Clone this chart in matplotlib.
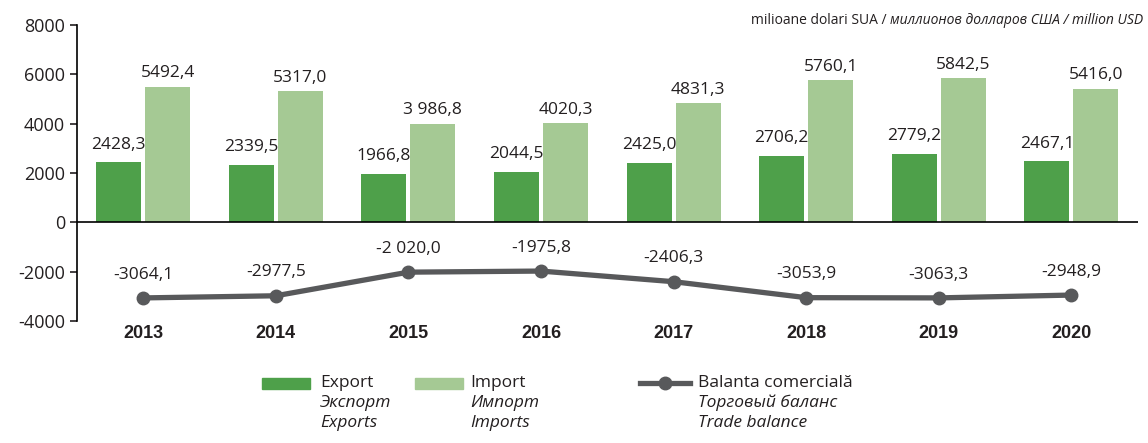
import numpy as np
import matplotlib.pyplot as plt
from matplotlib.patches import Rectangle
from matplotlib.lines import Line2D

plt.rcParams['font.family'] = ['Open Sans', 'DejaVu Sans']
plt.rcParams['axes.unicode_minus'] = False

# Data
years = ['2013', '2014', '2015', '2016', '2017', '2018', '2019', '2020']
exports = [2428.3, 2339.5, 1966.8, 2044.5, 2425.0, 2706.2, 2779.2, 2467.1]
imports = [5492.4, 5317.0, 3986.8, 4020.3, 4831.3, 5760.1, 5842.5, 5416.0]
balance = [-3064.1, -2977.5, -2020.0, -1975.8, -2406.3, -3053.9, -3063.3, -2948.9]
export_labels = ['2428,3', '2339,5', '1966,8', '2044,5', '2425,0', '2706,2', '2779,2', '2467,1']
import_labels = ['5492,4', '5317,0', '3 986,8', '4020,3', '4831,3', '5760,1', '5842,5', '5416,0']
balance_labels = ['-3064,1', '-2977,5', '-2 020,0', '-1975,8', '-2406,3', '-3053,9', '-3063,3', '-2948,9']

c_exp = '#4ea04a'
c_imp = '#a5c994'
c_bal = '#58595b'
txt = '#231f20'

fig = plt.figure(figsize=(11.48, 4.43), dpi=100)
ax = fig.add_axes([0.067, 0.2754, 0.924, 0.6682])

x = np.arange(len(years))
w = 0.34
ax.bar(x - 0.185, exports, w, color=c_exp)
ax.bar(x + 0.185, imports, w, color=c_imp)
ax.plot(x, balance, color=c_bal, lw=3.8, marker='o', ms=9, zorder=4)

for i in range(len(years)):
    ax.annotate(export_labels[i], (x[i] - 0.185, exports[i]), xytext=(0, 7),
                textcoords='offset points', ha='center', va='bottom', fontsize=12.5, color=txt)
    ax.annotate(import_labels[i], (x[i] + 0.185, imports[i]), xytext=(0, 4),
                textcoords='offset points', ha='center', va='bottom', fontsize=12.5, color=txt)
    ax.annotate(balance_labels[i], (x[i], balance[i]), xytext=(0, 11),
                textcoords='offset points', ha='center', va='bottom', fontsize=12.5, color=txt)

ax.axhline(0, color='black', lw=1.2, zorder=3)
ax.set_xlim(-0.5, 7.5)
ax.set_ylim(-4000, 8000)
ax.set_yticks(range(-4000, 8001, 2000))
ax.tick_params(axis='y', labelsize=13, colors=txt, length=5, width=1.2, direction='out')
ax.set_xticks(x)
ax.set_xticklabels(years, fontsize=13, fontweight='bold', color=txt, family=['Liberation Sans', 'DejaVu Sans'])
ax.tick_params(axis='x', length=0, pad=3)
for s in ['top', 'right', 'bottom']:
    ax.spines[s].set_visible(False)
ax.spines['left'].set_linewidth(1.2)

# unit note, top right
fig.canvas.draw()
r = fig.canvas.get_renderer()
t2 = fig.text(1143 / 1148, 1 - 20 / 443, 'миллионов долларов США / million USD', style='italic',
              ha='right', va='center', fontsize=10, color=txt)
bb = t2.get_window_extent(r)
fig.text(bb.x0 / 1148, 1 - 20 / 443, 'milioane dolari SUA / ', ha='right', va='center',
         fontsize=10, color=txt)

# legend drawn by hand
def fy(py):
    return 1 - py / 443

fig.add_artist(Rectangle((262 / 1148, fy(389)), 48 / 1148, 11 / 443, color=c_exp, transform=fig.transFigure))
fig.add_artist(Rectangle((415 / 1148, fy(389)), 48 / 1148, 11 / 443, color=c_imp, transform=fig.transFigure))
fig.add_artist(Line2D([640 / 1148, 690 / 1148], [fy(383), fy(383)], color=c_bal, lw=3.8,
                      transform=fig.transFigure))
fig.add_artist(Line2D([665 / 1148], [fy(383)], color=c_bal, marker='o', ms=9, transform=fig.transFigure))

legend_items = [
    (320, ['Export', 'Экспорт', 'Exports']),
    (470, ['Import', 'Импорт', 'Imports']),
    (698, ['Balanta comercială', 'Торговый баланс', 'Trade balance']),
]
for px, lines in legend_items:
    for j, s in enumerate(lines):
        fig.text(px / 1148, fy(383 + 20 * j), s, ha='left', va='center', fontsize=12.5,
                 style='normal' if j == 0 else 'italic', color=txt)

fig.savefig('out.png', dpi=100)
